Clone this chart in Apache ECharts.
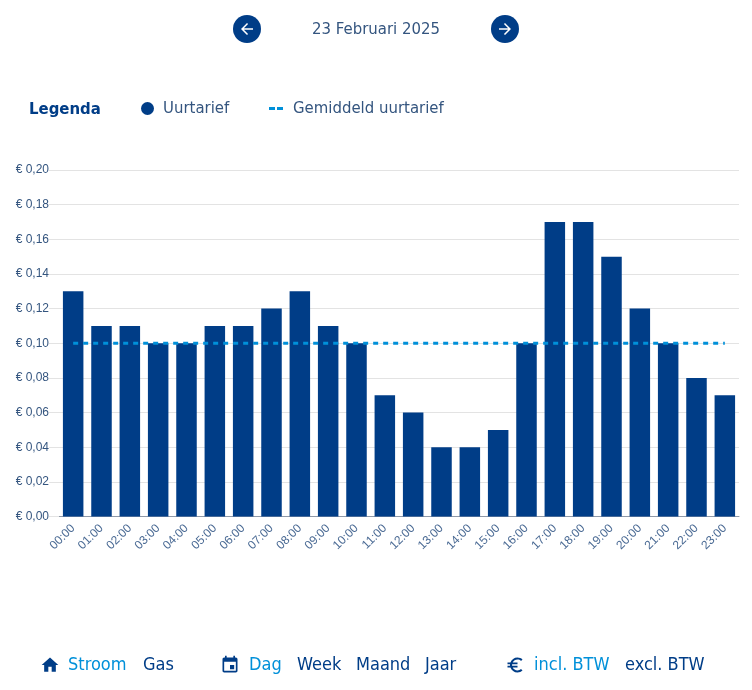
<!DOCTYPE html>
<html><head><meta charset="utf-8">
<style>html,body{margin:0;padding:0;background:#fff}#c{width:752px;height:690px}</style>
<script src="https://cdn.jsdelivr.net/npm/echarts@6/dist/echarts.min.js"></script>
</head><body><div id="c"></div>
<script>
const hours = ["00:00","01:00","02:00","03:00","04:00","05:00","06:00","07:00","08:00","09:00","10:00","11:00","12:00","13:00","14:00","15:00","16:00","17:00","18:00","19:00","20:00","21:00","22:00","23:00"];
const uurtarief = [0.13,0.11,0.11,0.10,0.10,0.11,0.11,0.12,0.13,0.11,0.10,0.07,0.06,0.04,0.04,0.05,0.10,0.17,0.17,0.15,0.12,0.10,0.08,0.07];
const gemiddeld = [0.10,0.10,0.10,0.10,0.10,0.10,0.10,0.10,0.10,0.10,0.10,0.10,0.10,0.10,0.10,0.10,0.10,0.10,0.10,0.10,0.10,0.10,0.10,0.10];
const NAVY='#003d87', BLUE='#0090d9', TXT='#34557f', UI='DejaVu Sans Condensed', TICK='Liberation Sans';
const P={
 home:"M10 20v-6h4v6h5v-8h3L12 3 2 12h3v8z",
 cal:"M17 12h-5v5h5v-5zM16 1v2H8V1H6v2H5c-1.11 0-1.99.9-1.99 2L3 19c0 1.1.89 2 2 2h14c1.1 0 2-.9 2-2V5c0-1.1-.9-2-2-2h-1V1h-2zm3 18H5V8h14v11z",
 euro:"M15 18.5c-2.51 0-4.68-1.42-5.76-3.5H15v-2H8.58c-.05-.33-.08-.66-.08-1s.03-.67.08-1H15V9H9.24C10.32 6.92 12.5 5.5 15 5.5c1.61 0 3.09.59 4.23 1.57L21 5.3C19.41 3.87 17.3 3 15 3c-3.92 0-7.24 2.51-8.48 6H3v2h3.06c-.04.33-.06.66-.06 1s.02.67.06 1H3v2h3.52c1.24 3.49 4.56 6 8.48 6 2.31 0 4.41-.87 6-2.3l-1.78-1.77c-1.13.98-2.6 1.57-4.22 1.57z",
 back:"M20 11H7.83l5.59-5.59L12 4l-8 8 8 8 1.41-1.41L7.83 13H20v-2z",
 fwd:"M12 4l-1.41 1.41L16.17 11H4v2h12.17l-5.58 5.59L12 20l8-8z"};
Object.keys(P).forEach(k=>echarts.graphic.registerShape('ic_'+k,echarts.graphic.extendPath(P[k])));
const icon=(k,x,y,s,c)=>({type:'ic_'+k,x,y,scaleX:s/24,scaleY:s/24,style:{fill:c}});
const t=(s,x,y,c,o={})=>({type:'text',x,y,style:{text:s,fill:c,font:(o.w||'normal')+' '+(o.s||16.6)+'px "'+UI+'"',align:o.a||'left',verticalAlign:'middle'}});
const graphic=[
 {type:'circle',shape:{cx:247,cy:29,r:14},style:{fill:NAVY}},
 icon('back',238,20,18,'#fff'),
 {type:'circle',shape:{cx:505,cy:29,r:14},style:{fill:NAVY}},
 icon('fwd',496,20,18,'#fff'),
 t('23 Februari 2025',376,30,TXT,{a:'center'}),
 t('Legenda',29,110,NAVY,{w:'bold'}),
 icon('home',40,655,20,NAVY), t('Stroom',68,665,BLUE,{s:18}), t('Gas',143,665,NAVY,{s:18}),
 icon('cal',220,655,20,NAVY), t('Dag',249,665,BLUE,{s:18}), t('Week',297,665,NAVY,{s:18}), t('Maand',356,665,NAVY,{s:18}), t('Jaar',425,665,NAVY,{s:18}),
 icon('euro',505,655,20,NAVY), t('incl. BTW',534,665,BLUE,{s:18}), t('excl. BTW',625,665,NAVY,{s:18})
];
const legendText={color:TXT,fontFamily:UI,fontSize:16.6};
const chart=echarts.init(document.getElementById('c'),null,{renderer:'canvas'});
chart.setOption({
 animation:false,
 graphic,
 legend:[
  {data:[{name:'Uurtarief',icon:'circle'}],left:141,top:100,itemWidth:13,itemHeight:13,itemGap:0,textStyle:{...legendText,padding:[0,0,0,4]},padding:0},
  {data:[{name:'Gemiddeld uurtarief',icon:'path://M0 0H6V3H0ZM8 0H14V3H8Z'}],left:269,top:100,itemWidth:14,itemHeight:3,textStyle:{...legendText,padding:[0,0,0,5]},padding:0}
 ],
 grid:{left:59,right:13,top:170,bottom:173.5,containLabel:false},
 xAxis:{type:'category',data:hours,
  axisLine:{lineStyle:{color:'#8f99a8',width:1}},axisTick:{show:false},
  axisLabel:{rotate:45,interval:0,color:'#4a6a94',fontFamily:TICK,fontSize:12,margin:10}},
 yAxis:{type:'value',min:0,max:0.2,interval:0.02,
  axisLine:{show:false},axisTick:{show:true,length:10,lineStyle:{color:'#e3e3e3'}},
  splitLine:{lineStyle:{color:'#e3e3e3',width:1}},
  axisLabel:{color:'#34557f',fontFamily:TICK,fontSize:12,margin:10,padding:[2,0,0,0],
   formatter:v=>'€ '+v.toFixed(2).replace('.',',')}},
 series:[
  {name:'Uurtarief',type:'bar',data:uurtarief,barWidth:20.5,itemStyle:{color:NAVY}},
  {name:'Gemiddeld uurtarief',type:'line',data:gemiddeld,symbol:'none',z:5,
   lineStyle:{color:BLUE,width:3,type:[5,5]},itemStyle:{color:BLUE}}
 ]
});
</script></body></html>
